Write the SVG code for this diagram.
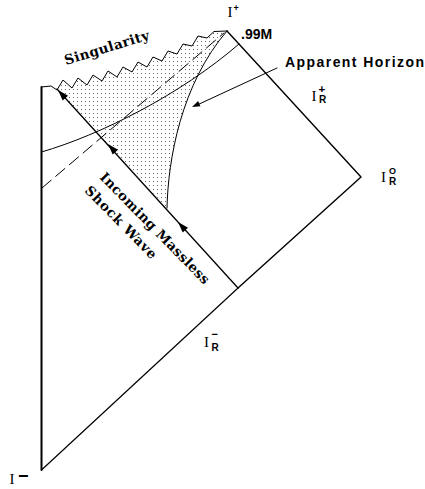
<svg xmlns="http://www.w3.org/2000/svg" width="425" height="489" viewBox="0 0 425 489">
<style>
.ln{fill:none;stroke:#000;stroke-linecap:round;stroke-linejoin:round}
.ser{font-family:"DejaVu Serif","Liberation Serif",serif;font-weight:bold;font-size:13.5px;fill:#000}
.sans{font-family:"Liberation Sans",Arial,sans-serif;font-weight:bold;font-size:14px;fill:#000}
.big{font-family:"Liberation Serif","Times New Roman",serif;font-size:15px;fill:#000}
.sm{font-family:"Liberation Sans",Arial,sans-serif;font-weight:bold;fill:#000}
</style>
<defs>
<pattern id="dots" width="4" height="4" patternUnits="userSpaceOnUse">
<rect x="1" y="1" width="1" height="1" fill="#666"/>
</pattern>
<path id="ah" d="M0,0 L-11,-3.6 L-11,3.6 Z" fill="#000"/>
<path id="ahs" d="M0,0 L-8,-2.8 L-8,2.8 Z" fill="#000"/>
</defs>
<rect width="425" height="489" fill="#fff"/>

<g id="trapped-region">
<path d="M57,90 L63,80 L72,88 L78,78 L87,85 L93,75 L102,81 L108,71 L117,77 L123,67 L132,72 L138,62 L147,67 L153,57 L162,61 L168,51 L177,54 L183,44 L192,46 L198,36 L207,38 L214,31.5 L227,31 C181,84 168,160 167,208 Z" fill="url(#dots)"/>
</g>

<g id="connectors">
<path class="ln" d="M41.5,87 L41.5,470" stroke-width="2"/>
<path class="ln" d="M41.5,470 L238,288" stroke-width="1.2"/>
<path class="ln" d="M238,288 L361,177 L227,31" stroke-width="1.4"/>
<path class="ln" d="M41.5,87 L51,86 L57,90 L63,80 L72,88 L78,78 L87,85 L93,75 L102,81 L108,71 L117,77 L123,67 L132,72 L138,62 L147,67 L153,57 L162,61 L168,51 L177,54 L183,44 L192,46 L198,36 L207,38 L214,31.5 L227,31" stroke-width="1"/>
<path class="ln" d="M238,288 L57,89" stroke-width="1.3"/>
<use href="#ah" transform="translate(58,90) rotate(-132.1)"/>
<use href="#ah" transform="translate(108,144) rotate(-132.1)"/>
<use href="#ah" transform="translate(178,222) rotate(-132.1)"/>
<path class="ln" d="M167,208 C168,160 181,84 227,31" stroke-width="1"/>
<path class="ln" d="M41.5,152 C100,135 180,95 239,44" stroke-width="1"/>
<path class="ln" d="M42,188 L224,33" stroke-width="1" stroke-dasharray="12 6"/>
<path class="ln" d="M277,68 L196,105.5" stroke-width="1"/>
<use href="#ahs" transform="translate(192,107) rotate(155.4)"/>
</g>

<g id="label-singularity">
<text class="ser" transform="translate(66,65) rotate(-17)" textLength="88">Singularity</text>
</g>
<g id="label-shock">
<g transform="translate(99,178) rotate(45.5)">
<text class="ser" x="0" y="0" textLength="150">Incoming Massless</text>
<text class="ser" x="-1" y="20" textLength="96">Shock Wave</text>
</g>
</g>
<g id="label-99M">
<text class="sans" x="241" y="38.5">.99M</text>
</g>
<g id="label-apparent-horizon">
<text class="sans" x="285" y="67" textLength="139">Apparent Horizon</text>
</g>
<g id="label-Iplus">
<text class="big" x="227.5" y="16.5">I</text>
<text class="sm" x="233.5" y="10.5" font-size="9">+</text>
</g>
<g id="label-IRplus">
<text class="big" x="311.5" y="100.5">I</text>
<text class="sm" x="318.5" y="92.5" font-size="11.5">+</text>
<text class="sm" x="319" y="103" font-size="10">R</text>
</g>
<g id="label-IR0">
<text class="big" x="381" y="181.5">I</text>
<text class="sm" x="389" y="173.5" font-size="9">O</text>
<text class="sm" x="389" y="184.5" font-size="10">R</text>
</g>
<g id="label-IRminus">
<text class="big" x="204" y="347">I</text>
<text class="sm" x="211.5" y="337.5" font-size="11">−</text>
<text class="sm" x="211.5" y="351" font-size="10">R</text>
</g>
<g id="label-Iminus">
<text class="big" x="9.5" y="484">I</text>
<text class="sm" x="18" y="482" font-size="18" font-weight="normal">−</text>
</g>
</svg>
